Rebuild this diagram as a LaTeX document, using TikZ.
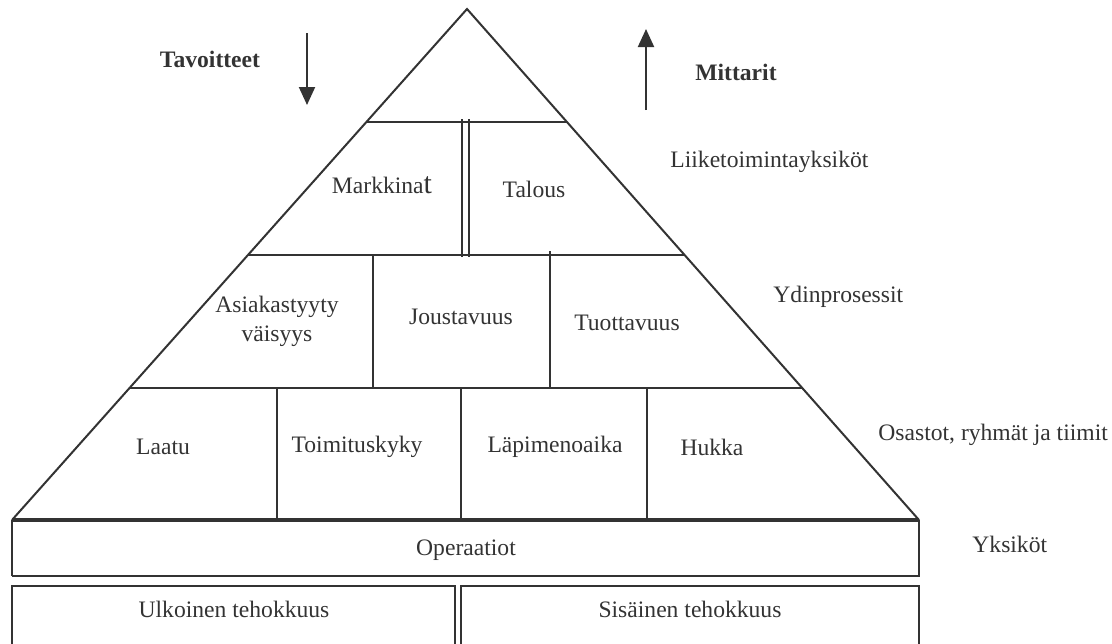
\documentclass[tikz,border=0pt]{standalone}
\usepackage{fontspec}
\setmainfont{Liberation Serif}
\usetikzlibrary{calc,arrows.meta}
\definecolor{ink}{HTML}{333333}
\begin{document}
\begin{tikzpicture}[x=0.5pt,y=-0.5pt,
  line/.style={draw=ink,line width=1pt},
  lbl/.style={text=ink,font=\fontsize{11.8}{14.5}\selectfont,inner sep=0pt,align=center},
  side/.style={lbl,anchor=west},
  head/.style={lbl,font=\fontsize{11.8}{13.5}\selectfont\bfseries},
  flow/.style={draw=ink,line width=1pt,-{Triangle[length=9pt,width=8pt]}}]
\useasboundingbox (0,0) rectangle (1112,643);

% pyramid outline
\coordinate (apex) at (467,9);
\coordinate (bl) at (12,520);
\coordinate (br) at (919,520);
\draw[line] (bl) -- (apex) -- (br);

% level boundaries
\coordinate (l1a) at ($(apex)!0.2211!(bl)$);
\coordinate (l1b) at ($(apex)!0.2211!(br)$);
\coordinate (l2a) at ($(apex)!0.4814!(bl)$);
\coordinate (l2b) at ($(apex)!0.4814!(br)$);
\coordinate (l3a) at ($(apex)!0.7417!(bl)$);
\coordinate (l3b) at ($(apex)!0.7417!(br)$);
\draw[line] (l1a) -- (l1b);
\draw[line] (l2a) -- (l2b);
\draw[line] (l3a) -- (l3b);

% dividers
\draw[line] (461.5,119) -- (461.5,257);
\draw[line] (469,119) -- (469,257);
\draw[line] (373,255) -- (373,388);
\draw[line] (550,251) -- (550,388);
\draw[line] (277,388) -- (277,520);
\draw[line] (461,388) -- (461,520);
\draw[line] (647,388) -- (647,520);

% base boxes
\draw[line] (12,576) -- (12,520);
\draw[draw=ink,line width=1.6pt] (12,520) -- (919,520);
\draw[line] (919,520) -- (919,576) -- (12,576);
\draw[line] (12,650) -- (12,586) -- (455,586) -- (455,650);
\draw[line] (461,650) -- (461,586) -- (919,586) -- (919,650);

% cell texts
\node[lbl] (markkinat) at (382,185) {Markkina{\fontsize{15}{15}\selectfont t}};
\node[lbl] (talous) at (534,189) {Talous};
\node[lbl] (asiakas) at (277,321) {Asiakastyyty\\väisyys};
\node[lbl] (joustavuus) at (461,317) {Joustavuus};
\node[lbl] (tuottavuus) at (627,323) {Tuottavuus};
\node[lbl] (laatu) at (163,447) {Laatu};
\node[lbl] (toimitus) at (357,447) {Toimituskyky};
\node[lbl] (lapimeno) at (555,447) {Läpimenoaika};
\node[lbl] (hukka) at (712,447) {Hukka};
\node[lbl] (operaatiot) at (466,550) {Operaatiot};
\node[lbl] (ulkoinen) at (234,609) {Ulkoinen tehokkuus};
\node[lbl] (sisainen) at (690,609) {Sisäinen tehokkuus};

% level names
\node[side] (liiketoiminta) at (670,162) {Liiketoimintayksiköt};
\node[side] (ydin) at (773,297) {Ydinprosessit};
\node[side] (osastot) at (878,435) {Osastot, ryhmät ja tiimit};
\node[side] (yksikot) at (972,544) {Yksiköt};

% direction arrows
\node[head] (tavoitteet) at (210,59) {Tavoitteet};
\node[head] (mittarit) at (736,72) {Mittarit};
\coordinate (downtop) at (307,33);
\coordinate (downend) at (307,105);
\coordinate (uptail) at (646,110);
\coordinate (uptop) at (646,29);
\draw[flow] (downtop) -- (downend);
\draw[flow] (uptail) -- (uptop);
\end{tikzpicture}
\end{document}
